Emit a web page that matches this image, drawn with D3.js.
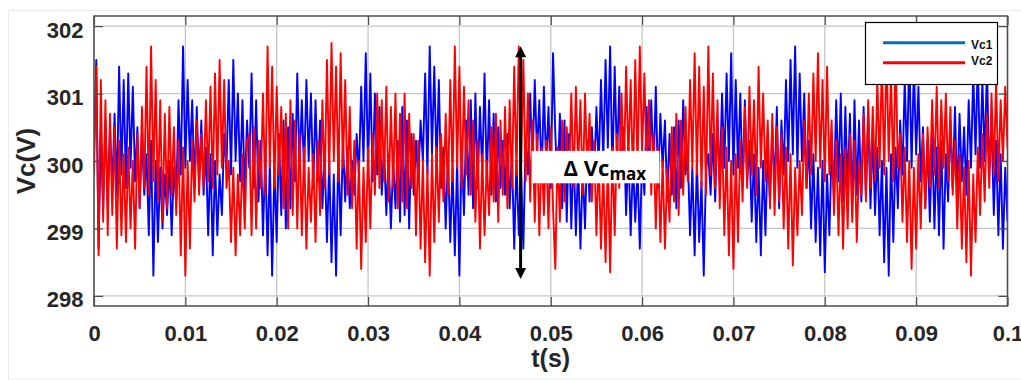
<!DOCTYPE html>
<html>
<head>
<meta charset="utf-8">
<script src="https://cdn.jsdelivr.net/npm/d3@7"></script>
<style>
  body { margin: 0; background: #fff; }
  svg { display: block; }
  .tick text { font-family: Arial, "Liberation Sans", sans-serif; font-weight: bold; font-size: 22px; fill: #262626; }
  .tick line { stroke: #4d4d4d; stroke-width: 1.2; }
</style>
</head>
<body>
<svg id="chart" width="1021" height="380"></svg>
<script>
// sampling step of the two capacitor voltages (s)
const tStep = 0.00025;

const vc1 = [
  300.2,301.5,298.7,300.4,299.3,300.6,299.4,300.5,299.6,300.7,
  299.5,301.4,299.8,301.2,299.6,301.3,299.9,301.1,299.7,300.5,
  299.3,300.4,299.5,300.1,298.9,300.3,298.3,300.0,298.8,299.9,
  299.0,299.8,299.2,300.0,298.9,299.9,299.4,300.9,299.8,301.7,
  299.9,301.2,300.0,300.9,299.6,300.8,299.7,300.6,299.5,300.2,
  298.9,300.1,298.6,300.0,298.9,299.8,299.2,300.4,299.9,301.2,
  299.8,301.5,300.0,301.0,299.7,300.9,299.5,300.6,
  299.9,301.3,299.6,300.9,299.4,300.3,298.9,300.1,298.6,300.0,
  298.3,299.9,298.8,300.4,299.2,300.6,299.0,300.5,299.3,300.7,
  299.7,301.3,299.9,300.9,299.8,301.2,300.0,301.0,299.6,300.9,
  299.7,300.6,299.3,300.1,298.8,300.0,298.5,299.8,298.3,300.2,
  298.9,300.3,299.4,300.2,299.3,300.0,299.5,300.4,299.8,301.1,
  300.0,301.6,299.9,301.3,299.7,301.0,299.8,300.8,299.5,300.2,
  299.2,300.1,299.0,300.0,299.3,300.3,299.1,
  300.8,299.2,300.6,299.0,300.4,299.5,300.3,299.7,300.6,300.0,
  301.3,299.8,301.7,300.1,301.4,299.9,301.2,299.6,300.2,299.0,
  300.1,298.8,299.9,298.6,300.0,298.3,300.2,299.2,300.6,299.5,
  300.9,299.3,301.0,299.6,300.8,299.8,301.3,299.7,300.9,299.5,
  300.7,299.4,300.5,299.6,300.3,299.5,300.4,299.3,300.1,298.7,
  300.0,298.9,299.9,298.7,300.3,299.8,301.0,299.9,301.2,300.1,
  300.9,299.7,301.1,299.9,300.8,299.6,301.6,
  300.4,299.6,300.7,299.3,300.6,299.1,300.4,299.0,300.2,298.9,
  300.0,298.7,299.9,299.0,300.3,299.4,300.5,299.7,300.8,299.9,
  301.2,300.0,301.5,300.2,301.7,299.8,301.4,300.0,301.1,299.7,
  300.5,299.2,300.2,298.9,300.0,299.1,299.9,298.7,300.1,299.5,
  300.8,299.7,300.9,299.8,301.1,299.6,300.7,299.9,300.6,299.4,
  300.4,299.5,300.5,299.3,300.6,299.6,300.9,299.8,300.1,298.9,
  299.9,298.6,300.0,298.8,299.7,298.3,299.9,
  300.1,299.5,300.4,299.4,300.6,299.7,301.0,299.9,301.3,300.0,
  301.6,299.8,301.2,299.9,301.0,299.6,300.9,299.7,300.3,299.1,
  300.1,298.8,299.9,298.6,300.0,298.9,300.2,299.4,300.5,299.6,
  300.8,299.3,300.6,299.8,301.2,300.0,301.5,300.1,301.7,299.9,
  301.3,300.0,301.0,299.6,300.3,299.0,300.1,298.8,299.9,298.6,
  300.0,298.35,299.8,298.9,300.2,299.5,300.9,299.7,301.0,299.4,
  300.8,299.6,300.7,299.3,300.9,299.5,300.6,
  299.4,300.8,299.5,300.7,299.3,300.4,299.2,300.2,298.9,300.0,
  298.5,299.9,298.3,300.1,298.8,300.2,299.3,300.6,299.8,301.2,
  300.0,301.6,299.9,301.4,300.1,301.1,299.7,300.5,299.3,300.3,
  299.1,300.4,299.0,300.2,298.9,300.3,298.7,300.1,299.4,300.6,
  299.6,300.8,299.4,300.7,299.7,300.5,299.5,300.9,299.9,301.3,
  300.1,301.5,299.9,301.2,300.0,301.4,299.8,300.6,299.2,300.3,
  298.9,300.1,298.7,299.9,299.1
];

const vc2 = [
  299.8,301.4,298.6,301.2,299.1,300.9,298.9,300.7,299.2,300.5,
  298.7,300.3,298.9,300.1,298.8,300.2,299.0,300.0,298.7,300.4,
  299.3,300.8,299.6,301.4,299.5,301.7,299.7,301.2,299.4,300.9,
  299.1,300.7,299.3,300.8,299.5,300.5,299.2,300.3,298.6,300.2,
  298.3,300.0,298.7,300.3,299.4,300.6,299.5,300.4,299.6,300.9,
  299.7,301.1,299.6,301.3,299.8,301.5,299.9,301.2,299.6,300.0,
  298.8,299.9,298.6,299.8,298.9,300.1,299.0,300.3,
  300.4,298.9,300.5,299.0,300.3,299.6,301.0,299.5,301.7,299.9,
  301.4,299.6,301.1,299.8,300.8,299.3,300.7,299.0,300.9,299.2,
  300.6,299.0,300.4,298.9,300.2,298.7,299.9,299.1,300.1,298.8,
  300.3,299.2,300.9,299.6,301.5,299.8,301.75,300.0,301.4,299.7,
  301.6,299.9,301.2,299.5,300.8,299.3,300.3,298.7,300.0,298.4,
  299.9,298.8,300.2,299.0,300.4,299.5,301.0,299.6,300.9,299.7,
  301.1,299.4,300.8,299.6,301.0,299.3,300.7,
  299.4,301.0,299.3,300.7,299.6,300.4,298.9,300.3,298.7,300.0,
  298.5,299.9,298.3,300.1,298.8,300.2,299.1,300.4,299.4,300.7,
  299.5,301.2,299.7,301.7,299.9,301.4,299.6,301.1,299.8,300.9,
  299.5,300.6,299.1,300.3,298.7,300.1,298.9,300.0,299.2,300.5,
  299.4,300.7,299.1,300.6,299.5,300.8,299.3,300.9,299.6,301.4,
  299.8,301.7,299.9,301.5,299.7,301.0,299.4,300.6,299.1,300.4,
  298.9,300.2,299.2,300.3,299.0,300.5,299.3,
  298.4,300.2,299.1,300.6,299.4,300.5,299.7,301.0,299.6,301.1,
  299.9,300.9,299.5,301.0,299.8,300.7,299.4,300.3,298.9,300.1,
  298.7,299.9,298.5,300.0,298.35,300.2,298.9,300.4,299.6,301.0,
  299.8,301.4,300.0,301.2,299.7,301.5,299.9,301.7,300.1,301.3,
  299.8,300.9,299.5,300.4,299.0,300.2,298.8,300.0,298.7,299.9,
  299.1,300.5,299.4,300.7,299.2,300.6,299.5,300.8,299.7,301.2,
  299.9,301.6,299.8,301.4,299.6,301.1,299.5,
  301.7,299.8,301.3,299.6,300.9,299.3,300.5,298.9,300.2,298.6,
  300.0,298.4,300.1,298.8,300.3,299.4,300.8,299.6,301.1,299.8,
  300.9,299.5,301.4,299.9,301.0,299.7,300.6,299.3,300.7,299.2,
  300.5,299.4,300.4,299.0,300.2,298.7,300.1,298.45,299.9,298.9,
  300.0,299.2,300.6,299.6,301.0,299.8,301.3,300.0,301.6,299.9,
  301.2,299.7,301.4,299.8,300.6,299.2,300.3,298.9,300.1,298.7,
  300.2,299.0,300.4,299.1,300.3,298.8,300.0,
  299.5,300.7,299.4,300.9,299.6,300.8,299.7,301.2,299.9,301.5,
  299.8,301.7,300.0,301.3,299.7,301.6,299.9,300.4,299.1,300.2,
  298.8,300.0,298.4,299.9,298.7,300.1,299.0,300.4,299.3,300.5,
  299.6,300.9,299.8,301.1,299.6,300.9,299.9,301.0,299.7,300.8,
  299.5,300.3,299.0,300.1,298.7,299.9,298.5,300.0,298.3,299.8,
  298.8,300.2,299.2,300.4,299.4,300.7,299.6,301.0,299.8,301.2,
  299.7,300.9,300.0,301.1,300.2
];

const xTicks = [0, 0.01, 0.02, 0.03, 0.04, 0.05, 0.06, 0.07, 0.08, 0.09, 0.1];
const xTickLabels = ['0', '0.01', '0.02', '0.03', '0.04', '0.05', '0.06', '0.07', '0.08', '0.09', '0.1'];
const yTicks = [298, 299, 300, 301, 302];
const seriesNames = ['Vc1', 'Vc2'];
const seriesColors = ['#0000ff', '#ff0000'];
const legendColors = ['#0072bd', '#ff0000'];

// ripple annotation: peak-to-peak arrow and its label box (data units)
const arrowTime = 0.0467;
const arrowVolts = [298.25, 301.7];
const labelTimes = [0.0479, 0.0619];
const labelVolts = [300.15, 299.67];

const margin = {top: 16, right: 13.5, bottom: 74, left: 94};
const width = 1021 - margin.left - margin.right;
const height = 380 - margin.top - margin.bottom;

const svg = d3.select('#chart');

// faint figure frame
svg.append('rect')
  .attr('x', 8.5).attr('y', 10.5)
  .attr('width', 1030).attr('height', 368.5)
  .attr('fill', 'none')
  .attr('stroke', '#ececec');

const g = svg.append('g')
  .attr('transform', 'translate(' + margin.left + ',' + margin.top + ')');

const x = d3.scaleLinear().domain([0, 0.1]).range([0, width]);
const y = d3.scaleLinear().domain([297.85, 302.15]).range([height, 0]);

// grid
g.append('g').selectAll('line')
  .data(xTicks)
  .enter().append('line')
  .attr('x1', d => x(d)).attr('x2', d => x(d))
  .attr('y1', 0).attr('y2', height)
  .attr('stroke', '#c6c6c6')
  .attr('stroke-width', 1.3);

g.append('g').selectAll('line')
  .data(yTicks)
  .enter().append('line')
  .attr('x1', 0).attr('x2', width)
  .attr('y1', d => y(d)).attr('y2', d => y(d))
  .attr('stroke', '#c6c6c6')
  .attr('stroke-width', 1.3);

g.append('clipPath').attr('id', 'plot-clip')
  .append('rect').attr('width', width).attr('height', height);

const line = d3.line()
  .x((d, i) => x(i * tStep))
  .y(d => y(d));

[vc1, vc2].forEach((series, k) => {
  g.append('path')
    .datum(series)
    .attr('clip-path', 'url(#plot-clip)')
    .attr('d', line)
    .attr('fill', 'none')
    .attr('stroke', seriesColors[k])
    .attr('stroke-width', 1.9)
    .attr('stroke-linejoin', 'round');
});

// axes with inward ticks
const xAxis = g.append('g')
  .attr('transform', 'translate(0,' + height + ')')
  .call(d3.axisBottom(x).tickValues(xTicks).tickSize(-9).tickPadding(19)
    .tickFormat((d, i) => xTickLabels[i]));
xAxis.select('.domain').remove();

const yAxis = g.append('g')
  .call(d3.axisLeft(y).tickValues(yTicks).tickSize(-9).tickPadding(10.5)
    .tickFormat(d3.format('d')));
yAxis.select('.domain').remove();
yAxis.selectAll('text').attr('dy', '0.5em');

g.append('g')
  .call(d3.axisTop(x).tickValues(xTicks).tickSize(-9).tickFormat(''))
  .select('.domain').remove();
g.append('g')
  .attr('transform', 'translate(' + width + ',0)')
  .call(d3.axisRight(y).tickValues(yTicks).tickSize(-9).tickFormat(''))
  .select('.domain').remove();

g.append('rect')
  .attr('width', width).attr('height', height)
  .attr('fill', 'none')
  .attr('stroke', '#4d4d4d')
  .attr('stroke-width', 1.5);

// axis titles
g.append('text')
  .attr('x', width / 2)
  .attr('y', height + 61)
  .attr('text-anchor', 'middle')
  .style('font-family', 'Arial, "Liberation Sans", sans-serif')
  .style('font-weight', 'bold')
  .style('font-size', '25px')
  .style('fill', '#262626')
  .text('t(s)');

svg.append('text')
  .attr('transform', 'translate(35,' + (margin.top + y(300)) + ') rotate(-90)')
  .attr('text-anchor', 'middle')
  .style('font-family', 'Arial, "Liberation Sans", sans-serif')
  .style('font-weight', 'bold')
  .style('font-size', '26px')
  .style('fill', '#262626')
  .text('Vc(V)');

// delta arrow
const ax = x(arrowTime);
const aTop = y(arrowVolts[1]);
const aBot = y(arrowVolts[0]);
g.append('line')
  .attr('x1', ax).attr('x2', ax)
  .attr('y1', aTop + 8).attr('y2', aBot - 8)
  .attr('stroke', '#000')
  .attr('stroke-width', 3);
g.append('path')
  .attr('d', 'M' + ax + ',' + aTop + 'L' + (ax + 5.5) + ',' + (aTop + 11) + 'L' + (ax - 5.5) + ',' + (aTop + 11) + 'Z')
  .attr('fill', '#000');
g.append('path')
  .attr('d', 'M' + ax + ',' + aBot + 'L' + (ax + 5.5) + ',' + (aBot - 11) + 'L' + (ax - 5.5) + ',' + (aBot - 11) + 'Z')
  .attr('fill', '#000');

// label box
const bx0 = x(labelTimes[0]);
const bx1 = x(labelTimes[1]);
const by0 = y(labelVolts[0]);
const by1 = y(labelVolts[1]);
g.append('rect')
  .attr('x', bx0).attr('y', by0)
  .attr('width', bx1 - bx0).attr('height', by1 - by0)
  .attr('fill', '#fff');

const lbl = g.append('text')
  .attr('x', bx0 + 32)
  .attr('y', by0 + 25.5)
  .style('font-family', '"Open Sans", "Liberation Sans", sans-serif')
  .style('font-weight', 'bold')
  .style('font-size', '22px')
  .style('fill', '#000');
lbl.append('tspan').text('\u0394 Vc');
lbl.append('tspan').attr('dy', 4).style('font-size', '17px').text('max');

// legend
const legend = svg.append('g').attr('transform', 'translate(865,22)');
legend.append('rect')
  .attr('x', 0.5).attr('y', 0.5)
  .attr('width', 132).attr('height', 62)
  .attr('fill', '#fff')
  .attr('stroke', '#000')
  .attr('stroke-width', 1.2);

seriesNames.forEach((name, k) => {
  legend.append('line')
    .attr('x1', 18).attr('x2', 100)
    .attr('y1', 20.7 + k * 20).attr('y2', 20.7 + k * 20)
    .attr('stroke', legendColors[k])
    .attr('stroke-width', 3);
  legend.append('text')
    .attr('x', 106)
    .attr('y', 24 + k * 16)
    .attr('dominant-baseline', 'middle')
    .style('font-family', 'Arial, "Liberation Sans", sans-serif')
    .style('font-weight', 'bold')
    .style('font-size', '12px')
    .style('fill', '#111')
    .text(name);
});
</script>
</body>
</html>
